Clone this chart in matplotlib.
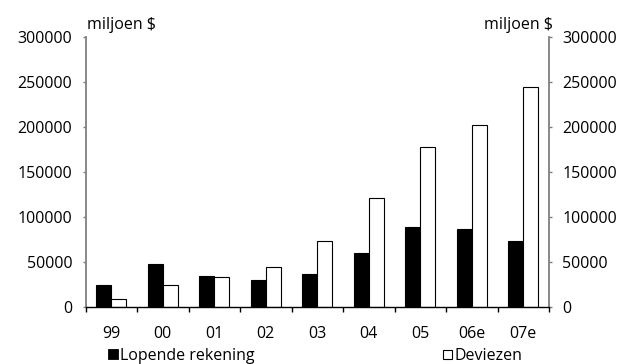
import matplotlib
matplotlib.use("Agg")
import matplotlib.pyplot as plt
from matplotlib.patches import Rectangle
import numpy as np

plt.rcParams['font.family'] = ['Open Sans', 'DejaVu Sans']

years = ["99", "00", "01", "02", "03", "04", "05", "06e", "07e"]
lopende_rekening = [25000, 47400, 34400, 29600, 36300, 60400, 89300, 86700, 73700]
deviezen = [8500, 24800, 33000, 44800, 73300, 121500, 177800, 202000, 245000]
yticks = [0, 50000, 100000, 150000, 200000, 250000, 300000]

W, H = 620, 364
fig = plt.figure(figsize=(6.2, 3.64), dpi=100)
ax = fig.add_axes([85.5 / W, 1 - 307 / H, (549 - 85.5) / W, (307 - 37) / H])

x = np.arange(len(years))
w = 0.29
ax.bar(x - w / 2, lopende_rekening, width=w, color="black", edgecolor="black", linewidth=0.8)
ax.bar(x + w / 2, deviezen, width=w, color="white", edgecolor="black", linewidth=0.8)

ax.set_xlim(-0.5, len(years) - 0.5)
ax.set_ylim(0, 300000)

gray = "#7f7f7f"
fs = 11.5
ax.set_yticks(yticks)
ax.set_yticklabels([str(v) for v in yticks], fontsize=fs)
ax.tick_params(axis="y", which="both", left=True, right=True, labelleft=True,
               labelright=True, direction="out", length=2.2, width=1, color=gray, pad=7.2)

# categories labelled at centers, tick marks at the boundaries
ax.set_xticks(np.arange(len(years) + 1) - 0.5)
ax.set_xticklabels([""] * (len(years) + 1))
ax.set_xticks(x, minor=True)
ax.set_xticklabels(years, minor=True, fontsize=fs)
ax.tick_params(axis="x", which="major", direction="out", length=3.6, width=1, color="black")
ax.tick_params(axis="x", which="minor", length=0, pad=14)

for side in ("left", "right"):
    ax.spines[side].set_color(gray)
    ax.spines[side].set_linewidth(1.3)
ax.spines["top"].set_visible(False)
ax.spines["bottom"].set_color("black")
ax.spines["bottom"].set_linewidth(1.0)

fig.text(87 / W, 1 - 29 / H, "miljoen $", fontsize=fs, ha="left", va="baseline")
fig.text(553 / W, 1 - 29 / H, "miljoen $", fontsize=fs, ha="right", va="baseline")

# legend: square swatches followed by the series names
base = 1 - 360 / H
fig.patches.append(Rectangle((108 / W, 1 - 359 / H), 10 / W, 10 / H,
                             transform=fig.transFigure, facecolor="black",
                             edgecolor="black", linewidth=0.6))
fig.text(120 / W, base, "Lopende rekening", fontsize=fs, ha="left", va="baseline")
fig.patches.append(Rectangle((443 / W, 1 - 358.5 / H), 9 / W, 9 / H,
                             transform=fig.transFigure, facecolor="white",
                             edgecolor="black", linewidth=0.8))
fig.text(455 / W, base, "Deviezen", fontsize=fs, ha="left", va="baseline")

fig.savefig("out.png", dpi=100)
